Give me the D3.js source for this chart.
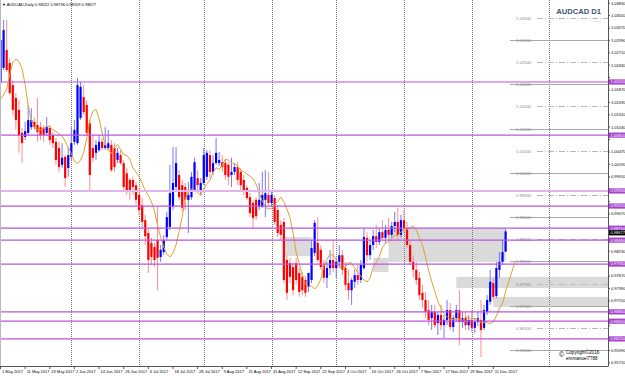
<!DOCTYPE html>
<html>
<head>
<meta charset="utf-8">
<script src="https://cdn.jsdelivr.net/npm/d3@7"></script>
<style>
  body { margin: 0; background: #fff; }
  svg { display: block; font-family: "Liberation Sans", Arial, sans-serif; }
</style>
</head>
<body>
<svg id="chart" width="625" height="376"></svg>
<script>
// AUDCAD daily, 1 May 2017 .. mid Dec 2017
var openP = [
  1.0203,1.0237,1.0277,1.0248,1.0198,1.0169,1.0142,1.0090,1.0081,1.0090,
  1.0103,1.0115,1.0108,1.0103,1.0101,1.0090,1.0101,1.0085,1.0070,1.0056,
  1.0018,1.0036,1.0011,1.0036,1.0070,1.0067,1.0124,1.0171,1.0153,1.0112,
  1.0056,1.0045,1.0051,1.0070,1.0056,1.0056,1.0063,1.0056,1.0029,1.0040,
  1.0022,0.9999,0.9984,0.9984,0.9972,0.9950,0.9927,0.9893,0.9864,0.9842,
  0.9833,0.9848,0.9810,0.9821,0.9855,0.9878,0.9923,0.9968,0.9995,0.9972,
  0.9968,0.9939,0.9945,0.9961,0.9988,0.9957,0.9977,0.9991,1.0040,1.0002,
  1.0022,1.0022,1.0024,1.0022,1.0018,0.9995,1.0002,1.0013,1.0002,0.9984,
  0.9966,0.9945,0.9932,0.9939,0.9923,0.9923,0.9939,0.9950,0.9932,0.9943,
  0.9916,0.9882,0.9889,0.9803,0.9796,0.9787,0.9796,0.9774,0.9765,0.9758,
  0.9742,0.9758,0.9819,0.9842,0.9826,0.9792,0.9763,0.9785,0.9803,0.9785,
  0.9799,0.9814,0.9785,0.9751,0.9735,0.9754,0.9769,0.9758,0.9785,0.9853,
  0.9814,0.9837,0.9857,0.9844,0.9866,0.9853,0.9871,0.9860,0.9880,0.9889,
  0.9860,0.9893,0.9875,0.9837,0.9799,0.9781,0.9763,0.9729,0.9713,0.9690,
  0.9672,0.9686,0.9661,0.9679,0.9656,0.9668,0.9690,0.9652,0.9672,0.9690,
  0.9663,0.9672,0.9656,0.9668,0.9650,0.9663,0.9668,0.9650,0.9686,0.9709,
  0.9751,0.9722,0.9781,0.9799,0.98222
];
var highP = [
  1.0309,1.0345,1.0345,1.0259,1.0209,1.0180,1.0164,1.0101,1.0115,1.0153,
  1.0146,1.0124,1.0169,1.0115,1.0108,1.0126,1.0108,1.0092,1.0079,1.0070,
  1.0067,1.0040,1.0058,1.0103,1.0119,1.0214,1.0205,1.0198,1.0164,1.0119,
  1.0085,1.0074,1.0085,1.0079,1.0103,1.0097,1.0074,1.0067,1.0056,1.0051,
  1.0029,1.0011,0.9988,0.9991,0.9979,0.9966,0.9943,0.9905,0.9875,0.9853,
  0.9842,0.9923,0.9837,0.9860,0.9912,1.0018,1.0058,1.0058,1.0006,0.9984,
  0.9977,0.9979,1.0002,1.0034,1.0006,0.9988,1.0056,1.0051,1.0051,1.0040,
  1.0079,1.0047,1.0040,1.0029,1.0024,1.0034,1.0022,1.0024,1.0011,0.9995,
  0.9972,0.9954,0.9939,0.9945,0.9977,1.0002,1.0006,1.0002,0.9961,0.9950,
  0.9927,0.9893,0.9898,0.9814,0.9808,0.9799,0.9808,0.9785,0.9776,0.9767,
  0.9758,0.9848,0.9893,0.9900,0.9837,0.9803,0.9799,0.9826,0.9848,0.9808,
  0.9837,0.9826,0.9799,0.9781,0.9763,0.9781,0.9792,0.9803,0.9875,0.9866,
  0.9848,0.9871,0.9882,0.9875,0.9893,0.9882,0.9898,0.9889,0.9912,0.9921,
  0.9905,0.9916,0.9889,0.9848,0.9814,0.9799,0.9776,0.9747,0.9731,0.9713,
  0.9702,0.9702,0.9686,0.9702,0.9679,0.9713,0.9706,0.9679,0.9702,0.9735,
  0.9686,0.9686,0.9679,0.9690,0.9672,0.9686,0.9713,0.9702,0.9724,0.9781,
  0.9763,0.9799,0.9821,0.9848,0.98736
];
var lowP = [
  1.0198,1.0232,1.0228,1.0176,1.0130,1.0097,1.0045,1.0022,1.0074,1.0085,
  1.0097,1.0097,1.0070,1.0074,1.0070,1.0083,1.0063,1.0056,1.0018,1.0002,
  1.0011,0.9968,0.9991,1.0029,1.0063,1.0063,1.0119,1.0130,1.0085,0.9961,
  1.0024,1.0029,1.0047,1.0051,1.0051,1.0051,1.0002,1.0002,1.0022,1.0018,
  0.9961,0.9950,0.9939,0.9950,0.9927,0.9905,0.9875,0.9837,0.9774,0.9792,
  0.9787,0.9735,0.9799,0.9814,0.9848,0.9871,0.9916,0.9961,0.9939,0.9912,
  0.9916,0.9864,0.9939,0.9957,0.9961,0.9950,0.9972,0.9984,0.9988,0.9995,
  1.0018,1.0015,1.0002,0.9984,0.9972,0.9968,0.9995,0.9972,0.9961,0.9950,
  0.9939,0.9900,0.9875,0.9893,0.9916,0.9921,0.9900,0.9927,0.9923,0.9882,
  0.9855,0.9848,0.9751,0.9713,0.9751,0.9724,0.9747,0.9720,0.9724,0.9720,
  0.9731,0.9751,0.9812,0.9799,0.9781,0.9751,0.9740,0.9769,0.9776,0.9763,
  0.9785,0.9769,0.9735,0.9713,0.9702,0.9740,0.9747,0.9751,0.9781,0.9799,
  0.9803,0.9826,0.9830,0.9837,0.9848,0.9842,0.9848,0.9853,0.9866,0.9848,
  0.9853,0.9866,0.9830,0.9792,0.9763,0.9747,0.9713,0.9695,0.9672,0.9656,
  0.9645,0.9650,0.9634,0.9645,0.9627,0.9656,0.9645,0.9641,0.9663,0.9611,
  0.9650,0.9645,0.9645,0.9641,0.9638,0.9654,0.9584,0.9645,0.9679,0.9702,
  0.9713,0.9717,0.9763,0.9792,0.98209
];
var closeP = [
  1.0300,1.0322,1.0232,1.0180,1.0142,1.0119,1.0085,1.0067,1.0094,1.0119,
  1.0119,1.0103,1.0092,1.0085,1.0085,1.0103,1.0074,1.0067,1.0029,1.0013,
  1.0034,0.9988,1.0040,1.0067,1.0097,1.0198,1.0194,1.0137,1.0090,0.9995,
  1.0034,1.0063,1.0070,1.0056,1.0063,1.0067,1.0006,1.0013,1.0045,1.0022,
  0.9968,0.9961,0.9961,0.9968,0.9939,0.9916,0.9889,0.9857,0.9803,0.9810,
  0.9803,0.9808,0.9826,0.9848,0.9900,0.9954,0.9977,1.0022,0.9945,0.9921,
  0.9939,0.9950,0.9991,1.0024,0.9972,0.9977,1.0040,1.0045,1.0002,1.0022,
  1.0045,1.0029,1.0013,0.9995,0.9991,1.0002,1.0013,0.9984,0.9972,0.9961,
  0.9943,0.9909,0.9898,0.9902,0.9939,0.9950,0.9954,0.9932,0.9950,0.9889,
  0.9864,0.9860,0.9758,0.9729,0.9765,0.9735,0.9758,0.9731,0.9735,0.9729,
  0.9774,0.9830,0.9887,0.9803,0.9787,0.9763,0.9785,0.9803,0.9785,0.9799,
  0.9814,0.9781,0.9747,0.9735,0.9758,0.9769,0.9758,0.9792,0.9855,0.9814,
  0.9837,0.9857,0.9844,0.9866,0.9853,0.9871,0.9860,0.9880,0.9889,0.9860,
  0.9893,0.9875,0.9837,0.9799,0.9781,0.9758,0.9724,0.9713,0.9686,0.9668,
  0.9686,0.9656,0.9679,0.9656,0.9668,0.9690,0.9652,0.9672,0.9690,0.9663,
  0.9672,0.9656,0.9668,0.9650,0.9663,0.9672,0.9645,0.9690,0.9713,0.9754,
  0.9720,0.9785,0.9799,0.9821,0.98677
];
// closes of the last April days, only needed to start the moving average
var priorCloses = [1.0164, 1.0153, 1.0142, 1.0176, 1.0198, 1.0209, 1.0221];

var dateLabels = ["1 May 2017","11 May 2017","23 May 2017","2 Jun 2017","14 Jun 2017",
  "26 Jun 2017","6 Jul 2017","18 Jul 2017","28 Jul 2017","9 Aug 2017","21 Aug 2017",
  "31 Aug 2017","12 Sep 2017","22 Sep 2017","4 Oct 2017","16 Oct 2017","26 Oct 2017",
  "7 Nov 2017","17 Nov 2017","29 Nov 2017","11 Dec 2017"];
var monthBars = [23, 45, 66, 88, 109, 131, 153, 178];

var axisTicks = [1.0383,1.0355,1.0327,1.0299,1.0271,1.0243,1.0215,1.0187,1.0159,1.0131,
  1.0103,1.0075,1.0047,1.0019,0.9991,0.9963,0.9935,0.9907,0.9879,0.9851,0.9823,
  0.9795,0.9767,0.9739,0.9711,0.9683,0.9655,0.9627,0.9599,0.9571];
var roundLevels = [0.960,0.965,0.970,0.975,0.980,0.985,0.990,0.995,1.000,1.005,
  1.010,1.015,1.020,1.025,1.030,1.035];
var srLevels = [1.0205, 1.0085, 0.9959, 0.9925, 0.9875, 0.9848, 0.9794, 0.9686, 0.9665, 0.9625];
// [from bar, to bar, top price, bottom price]
var zones = [[92, 101, 0.9855, 0.9812], [121, 126, 0.9808, 0.9776], [126, 164, 0.9875, 0.9799],
  [148, 200, 0.9765, 0.9740], [160, 200, 0.9720, 0.9697]];
var lastPrice = 0.98677;
var maPeriod = 5, maShift = 3;

var svg = d3.select("#chart"),
    plotR = 608, plotB = 366;

var x = d3.scaleLinear().domain([0, 164]).range([0.5, 505.6]);
var y = d3.scaleLinear().domain([0.96, 1.03]).range([350, 39.9]);
var fmt = d3.format(".5f");

var bars = closeP.map(function(c, i) {
  return {i: i, o: openP[i], h: highP[i], l: lowP[i], c: c};
});

// zones (background)
svg.append("g").selectAll("rect")
  .data(zones).enter().append("rect")
    .attr("x", function(d) { return x(d[0]); })
    .attr("width", function(d) { return Math.min(x(d[1]), plotR) - x(d[0]); })
    .attr("y", function(d) { return y(d[2]); })
    .attr("height", function(d) { return y(d[3]) - y(d[2]); })
    .attr("fill", "#dadada");

// month grid
svg.append("g").selectAll("line")
  .data(monthBars).enter().append("line")
    .attr("x1", function(d) { return Math.round(x(d)) + 0.5; })
    .attr("x2", function(d) { return Math.round(x(d)) + 0.5; })
    .attr("y1", 0).attr("y2", plotB)
    .attr("stroke", "#777").attr("stroke-dasharray", "1,1");

// round number levels to the right of the last bar
var rl = svg.append("g");
roundLevels.forEach(function(v) {
  var whole = Math.abs(v * 100 - Math.round(v * 100)) < 1e-6;
  var yy = Math.round(y(v)) + 0.5;
  rl.append("line")
    .attr("x1", whole ? 510 : 537).attr("x2", plotR)
    .attr("y1", yy).attr("y2", yy)
    .attr("stroke", whole ? "#a8a8a8" : "#b8b8b8")
    .attr("stroke-dasharray", whole ? null : "6,2,1,2");
  rl.append("text")
    .attr("x", 516).attr("y", yy + 1.5)
    .attr("font-size", 4.2).attr("fill", "#888")
    .text(fmt(v));
});

// candles
var cg = svg.append("g");
cg.selectAll("line")
  .data(bars).enter().append("line")
    .attr("x1", function(d) { return x(d.i); })
    .attr("x2", function(d) { return x(d.i); })
    .attr("y1", function(d) { return y(d.h); })
    .attr("y2", function(d) { return y(d.l); })
    .attr("stroke", function(d) { return d.c >= d.o ? "#7878ff" : "#ff8c8c"; })
    .attr("stroke-width", 1);
cg.selectAll("rect")
  .data(bars).enter().append("rect")
    .attr("x", function(d) { return x(d.i) - 1.1; })
    .attr("width", 2.2)
    .attr("y", function(d) { return y(Math.max(d.o, d.c)); })
    .attr("height", function(d) { return Math.max(1, Math.abs(y(d.o) - y(d.c))); })
    .attr("fill", function(d) { return d.c >= d.o ? "#0000ff" : "#ff0000"; });

// shifted simple moving average
var allCloses = priorCloses.concat(closeP), off = priorCloses.length;
var ma = [];
for (var k = maPeriod - 1; k < allCloses.length; k++) {
  ma.push({i: k - off + maShift, v: d3.mean(allCloses.slice(k - maPeriod + 1, k + 1))});
}
svg.append("path")
  .datum(ma.filter(function(d) { return d.i >= 0; }))
  .attr("fill", "none")
  .attr("stroke", "#e0a030")
  .attr("stroke-width", 1)
  .attr("d", d3.line().x(function(d) { return x(d.i); }).y(function(d) { return y(d.v); }));

// support / resistance lines
svg.append("g").selectAll("line")
  .data(srLevels).enter().append("line")
    .attr("x1", 0).attr("x2", plotR)
    .attr("y1", function(d) { return y(d); })
    .attr("y2", function(d) { return y(d); })
    .attr("stroke", function(d, i) { return i == 2 ? "#e2b4ee" : "#bb55dd"; })
    .attr("stroke-width", function(d, i) { return i == 2 ? 2 : 1.2; });

// right price axis; tick labels hidden where a level label sits
var ax = svg.append("g").attr("font-size", 4).attr("fill", "#000");
ax.append("line").attr("x1", plotR + 0.5).attr("x2", plotR + 0.5)
  .attr("y1", 0).attr("y2", plotB).attr("stroke", "#555");
var boxed = srLevels.concat([lastPrice]);
axisTicks.forEach(function(v) {
  ax.append("line").attr("x1", plotR).attr("x2", plotR + 2)
    .attr("y1", y(v)).attr("y2", y(v)).attr("stroke", "#555");
  var hidden = boxed.some(function(b) { return Math.abs(y(b) - y(v)) < 6; });
  if (!hidden) ax.append("text").attr("x", plotR + 3).attr("y", y(v) + 1.4).text(fmt(v));
});
srLevels.forEach(function(v) {
  ax.append("rect").attr("x", plotR + 1).attr("y", y(v) - 2.6)
    .attr("width", 16).attr("height", 5.2).attr("fill", "#a841d0");
  ax.append("text").attr("x", plotR + 2.5).attr("y", y(v) + 1.4)
    .attr("fill", "#fff").text(fmt(v));
});
ax.append("rect").attr("x", plotR + 1).attr("y", y(lastPrice) - 1.2)
  .attr("width", 16).attr("height", 5.2).attr("fill", "#000");
ax.append("text").attr("x", plotR + 2.5).attr("y", y(lastPrice) + 2.8)
  .attr("fill", "#fff").text(fmt(lastPrice));

// bottom time axis
var bx = svg.append("g").attr("font-size", 4).attr("fill", "#000");
bx.append("line").attr("x1", 0).attr("x2", plotR + 0.5)
  .attr("y1", plotB + 0.5).attr("y2", plotB + 0.5).attr("stroke", "#555");
bx.append("line").attr("x1", 0.5).attr("x2", 0.5)
  .attr("y1", 0).attr("y2", plotB).attr("stroke", "#bbb");
dateLabels.forEach(function(t, k) {
  var xx = x(k * 8);
  bx.append("line").attr("x1", xx).attr("x2", xx)
    .attr("y1", plotB).attr("y2", plotB + 3).attr("stroke", "#555");
  bx.append("text").attr("x", xx + 1.5).attr("y", plotB + 6.5).text(t);
});

// header texts
svg.append("text").attr("x", 2).attr("y", 6)
  .attr("font-size", 4).attr("fill", "#000")
  .text("\u25BC AUDCAD,Daily  0.98222 0.98736 0.98209 0.98677");
svg.append("text").attr("x", 601).attr("y", 14)
  .attr("text-anchor", "end").attr("font-size", 7.6).attr("font-weight", "bold")
  .attr("fill", "#3d5270").text("AUDCAD D1");
svg.append("text").attr("x", 601).attr("y", 22)
  .attr("text-anchor", "end").attr("font-size", 5).attr("fill", "#777").text(".....");

// signature
var sig = svg.append("g").attr("fill", "#000");
sig.append("text").attr("x", 559).attr("y", 357).attr("font-size", 7).text("\u00A9");
sig.append("text").attr("x", 566).attr("y", 354).attr("font-size", 4.6).text("Copyright\u00A92016");
sig.append("text").attr("x", 566).attr("y", 359.5).attr("font-size", 4.6).text("emmanuel7788");
</script>
</body>
</html>
